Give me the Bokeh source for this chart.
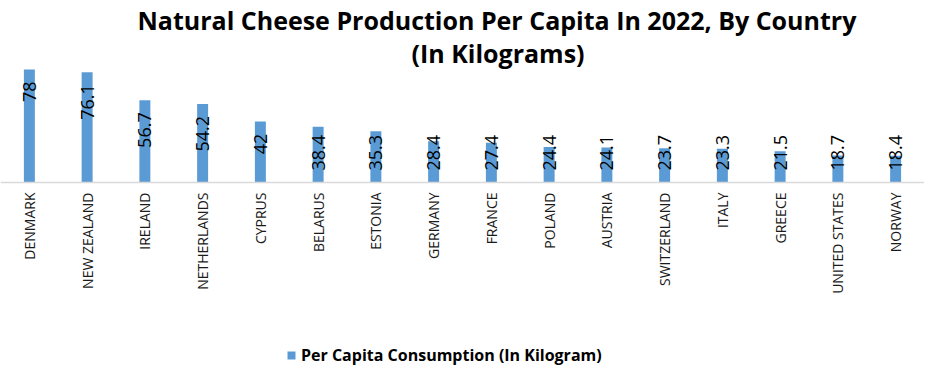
from math import pi
from bokeh.plotting import figure
from bokeh.models import ColumnDataSource, Range1d, FactorRange, Title, Legend, LegendItem, Span
from bokeh.core.properties import value
from bokeh.embed import file_html
from bokeh.resources import INLINE

countries = ["DENMARK", "NEW ZEALAND", "IRELAND", "NETHERLANDS", "CYPRUS", "BELARUS",
             "ESTONIA", "GERMANY", "FRANCE", "POLAND", "AUSTRIA", "SWITZERLAND",
             "ITALY", "GREECE", "UNITED STATES", "NORWAY"]
values = [78, 76.1, 56.7, 54.2, 42, 38.4, 35.3, 28.4, 27.4, 24.4, 24.1, 23.7, 23.3, 21.5, 18.7, 18.4]
value_labels = [f"{v:g}" for v in values]
series_name = "Per Capita Consumption (In Kilogram)"
title_line1 = "Natural Cheese Production Per Capita In 2022, By Country"
title_line2 = "(In Kilograms)"

BAR = "#5b9bd5"
FONT = "Open Sans"

# layout: bar area of 116 px for 0..80, frame extended below the baseline
# to hold the category labels and the legend
FRAME_H = 300
Y_MAX = 80
PX_PER_UNIT = 116 / Y_MAX
Y_MIN = Y_MAX - FRAME_H / PX_PER_UNIT

src = ColumnDataSource(dict(country=countries, value=values, label=value_labels,
                            base=[0] * len(countries)))

# labels placed inside end for tall bars, inside base for short bars
end_idx = [i for i, v in enumerate(values) if v >= 40]
base_idx = [i for i, v in enumerate(values) if v < 40]
src_end = ColumnDataSource(dict(country=[countries[i] for i in end_idx],
                                value=[values[i] for i in end_idx],
                                label=[value_labels[i] for i in end_idx]))
src_base = ColumnDataSource(dict(country=[countries[i] for i in base_idx],
                                 base=[0 for i in base_idx],
                                 label=[value_labels[i] for i in base_idx]))

p = figure(x_range=FactorRange(factors=countries, range_padding=0),
           y_range=Range1d(Y_MIN, Y_MAX),
           frame_width=924, frame_height=FRAME_H, output_backend="svg", toolbar_location=None,
           min_border_left=0, min_border_right=0, min_border_top=0, min_border_bottom=0)

r = p.vbar(x="country", top="value", bottom=0, width=0.19, source=src,
           fill_color=BAR, line_color=None)

p.text(x="country", y="value", text="label", source=src_end, angle=pi / 2,
       text_align="right", text_baseline="middle", y_offset=12,
       text_font=value(FONT), text_font_size="18px", text_color="#000000")
p.text(x="country", y="base", text="label", source=src_base, angle=pi / 2,
       text_align="left", text_baseline="middle", y_offset=-12,
       text_font=value(FONT), text_font_size="18px", text_color="#000000")

# category axis: baseline and rotated category labels
p.add_layout(Span(location=0, dimension="width", line_color="#d9d9d9", line_width=1.5))
p.text(x="country", y="base", text="country", source=src, angle=pi / 2,
       text_align="right", text_baseline="middle", y_offset=10,
       text_font=value(FONT), text_font_size="14px", text_color="#1a1a1a")

p.xaxis.visible = False
p.yaxis.visible = False
p.xgrid.visible = False
p.ygrid.visible = False
p.outline_line_color = None

p.add_layout(Title(text=title_line2, align="left", text_font=FONT, text_font_size="25px",
                   text_font_style="bold", text_color="#000000", standoff=-6, offset=411), "above")
p.add_layout(Title(text=title_line1, align="left", text_font=FONT, text_font_size="25px",
                   text_font_style="bold", text_color="#000000", standoff=0, offset=137), "above")

legend = Legend(items=[LegendItem(label=series_name, renderers=[r])],
                orientation="horizontal", location=(286, 0),
                label_text_font=FONT, label_text_font_size="16px", label_text_font_style="bold",
                label_text_color="#000000", glyph_width=10, glyph_height=10,
                border_line_color=None, background_fill_alpha=0, margin=0, padding=2, spacing=0,
                label_standoff=5)
p.add_layout(legend, "center")

open("out.html", "w").write(file_html(p, INLINE))
